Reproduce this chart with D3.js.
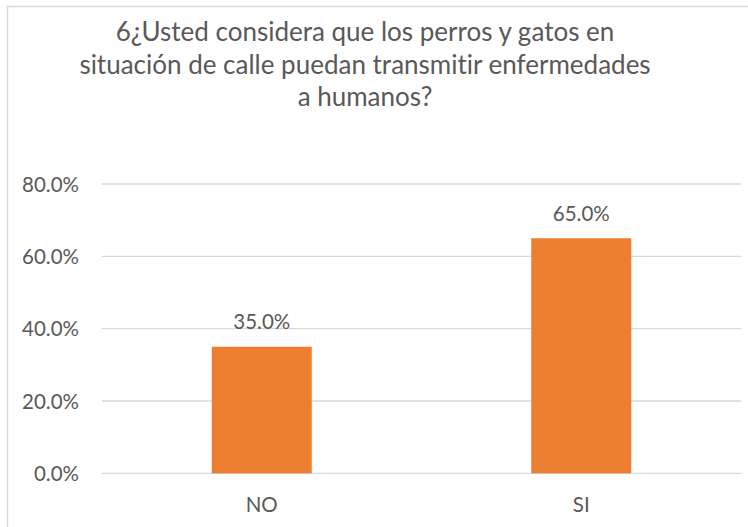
<!DOCTYPE html>
<html><head><meta charset="utf-8">
<script src="https://cdn.jsdelivr.net/npm/d3@7"></script>
<style>html,body{margin:0;padding:0;background:#fff;}svg{display:block;}text{font-variant-ligatures:none;font-feature-settings:"liga" 0;}</style>
</head><body>
<script>
const categories = ["NO", "SI"];
const values = [0.35, 0.65];
const yTicks = [0, 0.2, 0.4, 0.6, 0.8];
const titleLines = ["6¿Usted considera que los perros y gatos en", "situación de calle puedan transmitir enfermedades", "a humanos?"];

const W = 748, H = 527;
const svg = d3.select("body").append("svg").attr("width", W).attr("height", H);
const font = "Lato, 'Open Sans', sans-serif";
const txt = "#595959";
const fs = 20.5;

svg.append("rect").attr("x", 7.5).attr("y", 6.5).attr("width", W + 10).attr("height", H + 10)
  .attr("fill", "#fff").attr("stroke", "#d9d9d9").attr("stroke-width", 1.5);

const x = d3.scaleBand().domain(categories).range([102, 741]).paddingInner(0.687).paddingOuter(0.3435);
const y = d3.scaleLinear().domain([0, 0.8]).range([473.3, 184]);

// gridlines
svg.append("g").selectAll("line").data(yTicks).join("line")
  .attr("x1", 102).attr("x2", 741)
  .attr("y1", d => y(d)).attr("y2", d => y(d))
  .attr("stroke", "#d9d9d9").attr("stroke-width", 1.3);

// y axis labels
const yAxis = d3.axisLeft(y).tickValues(yTicks).tickFormat(d3.format(".1%")).tickSize(0).tickPadding(0);
const yg = svg.append("g").attr("transform", "translate(79,0)").call(yAxis);
yg.select(".domain").remove();
yg.selectAll("text").attr("font-family", font).attr("font-size", fs).attr("fill", txt).attr("dy", "0.35em");

// x axis labels
const xAxis = d3.axisBottom(x).tickSize(0).tickPadding(0);
const xg = svg.append("g").attr("transform", "translate(0,497)").call(xAxis);
xg.select(".domain").remove();
xg.selectAll("text").attr("font-family", font).attr("font-size", fs).attr("fill", txt).attr("dy", "0.71em");

// bars
const data = categories.map((c, i) => ({c, v: values[i]}));
svg.append("g").selectAll("rect").data(data).join("rect")
  .attr("x", d => x(d.c)).attr("width", x.bandwidth())
  .attr("y", d => y(d.v)).attr("height", d => y(0) - y(d.v))
  .attr("fill", "#ed7d31");

// data labels
svg.append("g").selectAll("text").data(data).join("text")
  .attr("x", d => x(d.c) + x.bandwidth() / 2)
  .attr("y", d => y(d.v) - 17.5)
  .attr("text-anchor", "middle")
  .attr("font-family", font).attr("font-size", fs).attr("fill", txt)
  .text(d => d3.format(".1%")(d.v));

// title
svg.append("g").selectAll("text").data(titleLines).join("text")
  .attr("x", 365).attr("y", (d, i) => 41 + i * 32.5)
  .attr("text-anchor", "middle")
  .attr("font-family", font).attr("font-size", 26).attr("fill", txt)
  .text(d => d);
</script>
</body></html>
